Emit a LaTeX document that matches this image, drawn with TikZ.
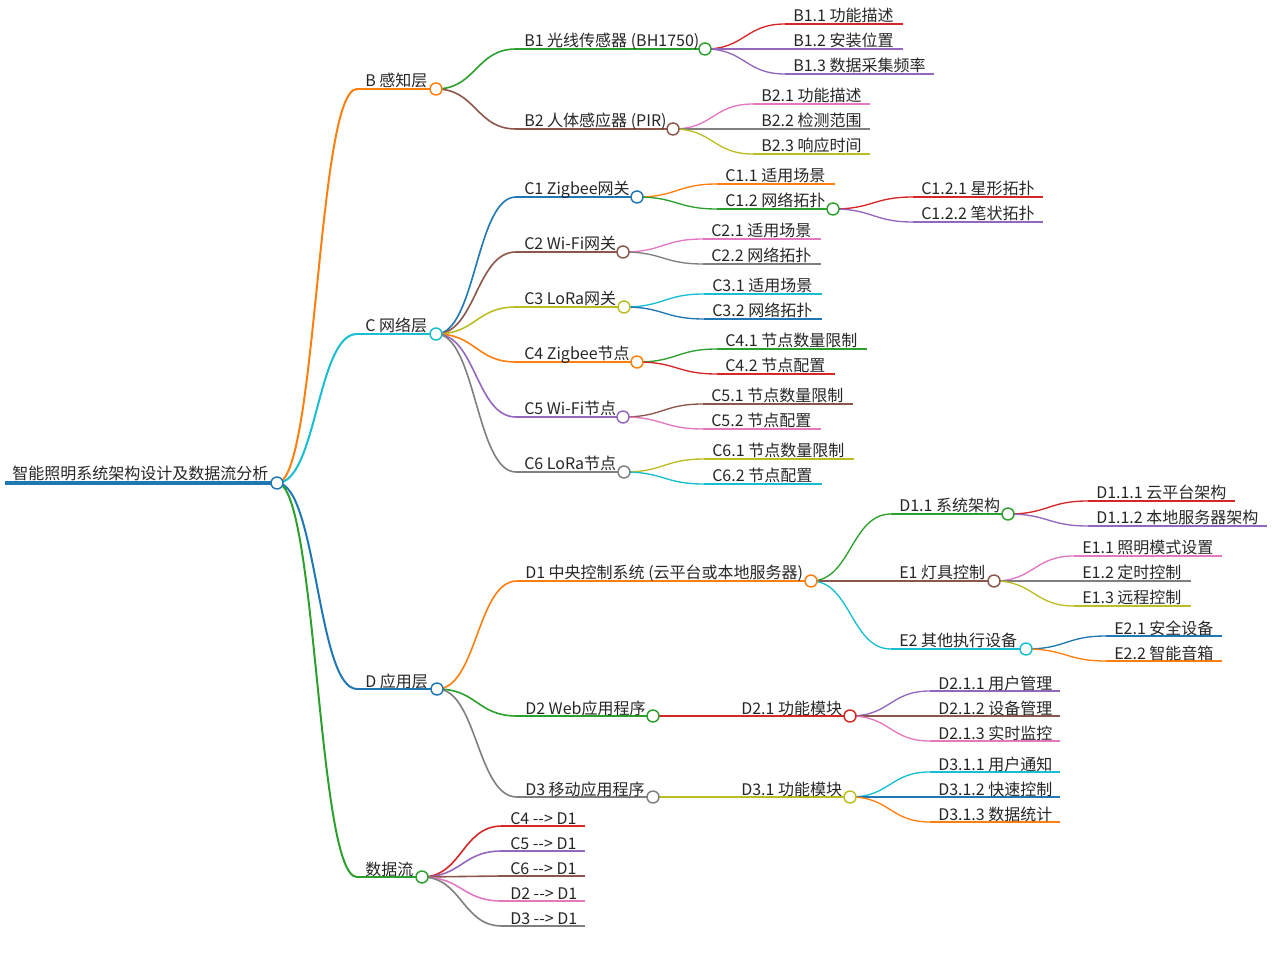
\documentclass[tikz,border=0pt]{standalone}
\usepackage{fontspec}
\setmainfont{Noto Sans CJK SC}
\usetikzlibrary{calc}

\definecolor{cblue}{HTML}{1F77B4}
\definecolor{corange}{HTML}{FF7F0E}
\definecolor{cgreen}{HTML}{2CA02C}
\definecolor{cred}{HTML}{D62728}
\definecolor{cpurple}{HTML}{9467BD}
\definecolor{cbrown}{HTML}{8C564B}
\definecolor{cpink}{HTML}{E377C2}
\definecolor{cgray}{HTML}{7F7F7F}
\definecolor{colive}{HTML}{BCBD22}
\definecolor{ccyan}{HTML}{17BECF}

\tikzset{
  lbl/.style={anchor=base west, inner sep=0pt, text=black!85, font=\fontsize{12pt}{14pt}\selectfont},
  dot/.style={circle, fill=white, line width=1.1pt, minimum size=9pt, inner sep=0pt},
  link/.style={to path={let \p1=(\tikztostart), \p2=(\tikztotarget) in
    .. controls ({(\x1+\x2)/2}, \y1) and ({(\x1+\x2)/2}, \y2) .. (\tikztotarget)}},
  w0/.style={line width=3pt},
  w1/.style={line width=1.5pt},
  w2/.style={line width=1.2pt},
  w3/.style={line width=1pt}
}

\begin{document}
\begin{tikzpicture}[x=0.75pt, y=-0.75pt]
      \useasboundingbox (0,0) rectangle (1272,955);

      \draw[w0,cblue] (5,483) coordinate (root-s) -- (277,483) coordinate (root);
      \node[lbl] (root-t) at (12,480) {智能照明系统架构设计及数据流分析};

      % layers
      \foreach \nm/\xe/\yy/\col/\txt in {b/436/89/corange/B 感知层, c/436/334/ccyan/C 网络层,
          d/437/689/cblue/D 应用层, f/422/877/cgreen/数据流} {
        \coordinate (\nm-s) at (357,\yy);
        \draw[link,w1,\col] (root) to (\nm-s);
        \draw[w1,\col] (\nm-s) -- (\xe,\yy) coordinate (\nm);
        \node[lbl] (\nm-t) at (365,\yy-2) {\txt};
      }

      % second level
      \foreach \p/\nm/\xs/\xe/\yy/\col/\txt in {
          b/b1/516/705/49/cgreen/B1 光线传感器 (BH1750),
          b/b2/516/673/129/cbrown/B2 人体感应器 (PIR),
          c/c1/516/637/197/cblue/C1 Zigbee网关,
          c/c2/516/623/252/cbrown/C2 Wi-Fi网关,
          c/c3/516/624/307/colive/C3 LoRa网关,
          c/c4/516/637/362/corange/C4 Zigbee节点,
          c/c5/516/623/417/cpurple/C5 Wi-Fi节点,
          c/c6/516/624/472/cgray/C6 LoRa节点,
          d/d1/517/811/581/corange/D1 中央控制系统 (云平台或本地服务器),
          d/d2/517/653/716/cgreen/D2 Web应用程序,
          d/d3/517/653/797/cgray/D3 移动应用程序,
          f/f1/502/585/826/cred/C4 -{}-> D1,
          f/f2/502/585/851/cpurple/C5 -{}-> D1,
          f/f3/502/585/876/cbrown/C6 -{}-> D1,
          f/f4/502/585/901/cpink/D2 -{}-> D1,
          f/f5/502/585/926/cgray/D3 -{}-> D1} {
        \coordinate (\nm-s) at (\xs,\yy);
        \draw[link,w2,\col] (\p) to (\nm-s);
        \draw[w2,\col] (\nm-s) -- (\xe,\yy) coordinate (\nm);
        \node[lbl] (\nm-t) at (\xs+8,\yy-2) {\txt};
      }

      % third level
      \foreach \p/\nm/\xs/\xe/\yy/\col/\txt in {
          b1/b11/785/903/24/cred/B1.1 功能描述,
          b1/b12/785/903/49/cpurple/B1.2 安装位置,
          b1/b13/785/934/74/cpurple/B1.3 数据采集频率,
          b2/b21/753/870/104/cpink/B2.1 功能描述,
          b2/b22/753/870/129/cgray/B2.2 检测范围,
          b2/b23/753/870/154/colive/B2.3 响应时间,
          c1/c11/717/835/184/corange/C1.1 适用场景,
          c1/c12/717/833/209/cgreen/C1.2 网络拓扑,
          c2/c21/703/821/239/cpink/C2.1 适用场景,
          c2/c22/703/821/264/cgray/C2.2 网络拓扑,
          c3/c31/704/822/294/ccyan/C3.1 适用场景,
          c3/c32/704/822/319/cblue/C3.2 网络拓扑,
          c4/c41/717/867/349/cgreen/C4.1 节点数量限制,
          c4/c42/717/835/374/cred/C4.2 节点配置,
          c5/c51/703/853/404/cbrown/C5.1 节点数量限制,
          c5/c52/703/821/429/cpink/C5.2 节点配置,
          c6/c61/704/854/459/colive/C6.1 节点数量限制,
          c6/c62/704/822/484/ccyan/C6.2 节点配置,
          d1/d11/891/1008/514/cgreen/D1.1 系统架构,
          d1/e1/891/994/581/cbrown/E1 灯具控制,
          d1/e2/891/1026/649/ccyan/E2 其他执行设备,
          d2/d21/733/850/716/cred/D2.1 功能模块,
          d3/d31/733/850/797/colive/D3.1 功能模块} {
        \coordinate (\nm-s) at (\xs,\yy);
        \draw[link,w3,\col] (\p) to (\nm-s);
        \draw[w3,\col] (\nm-s) -- (\xe,\yy) coordinate (\nm);
        \node[lbl] (\nm-t) at (\xs+8,\yy-2) {\txt};
      }

      % fourth level
      \foreach \p/\nm/\xs/\xe/\yy/\col/\txt in {
          c12/c121/913/1043/197/cred/C1.2.1 星形拓扑,
          c12/c122/913/1043/222/cpurple/C1.2.2 笔状拓扑,
          d11/d111/1088/1235/501/cred/D1.1.1 云平台架构,
          d11/d112/1088/1267/526/cpurple/D1.1.2 本地服务器架构,
          e1/e11/1074/1222/556/cpink/E1.1 照明模式设置,
          e1/e12/1074/1191/581/cgray/E1.2 定时控制,
          e1/e13/1074/1191/606/colive/E1.3 远程控制,
          e2/e21/1106/1222/636/cblue/E2.1 安全设备,
          e2/e22/1106/1222/661/corange/E2.2 智能音箱,
          d21/d211/930/1060/691/cpurple/D2.1.1 用户管理,
          d21/d212/930/1060/716/cbrown/D2.1.2 设备管理,
          d21/d213/930/1060/741/cpink/D2.1.3 实时监控,
          d31/d311/930/1060/772/ccyan/D3.1.1 用户通知,
          d31/d312/930/1060/797/cblue/D3.1.2 快速控制,
          d31/d313/930/1060/822/corange/D3.1.3 数据统计} {
        \coordinate (\nm-s) at (\xs,\yy);
        \draw[link,w3,\col] (\p) to (\nm-s);
        \draw[w3,\col] (\nm-s) -- (\xe,\yy) coordinate (\nm);
        \node[lbl] (\nm-t) at (\xs+8,\yy-2) {\txt};
      }

      % fold circles
      \foreach \nm/\col in {root/cblue, b/corange, c/ccyan, d/cblue, f/cgreen,
          b1/cgreen, b2/cbrown, c1/cblue, c12/cgreen, c2/cbrown, c3/colive,
          c4/corange, c5/cpurple, c6/cgray, d1/corange, d11/cgreen, e1/cbrown,
          e2/ccyan, d2/cgreen, d21/cred, d3/cgray, d31/colive}
        \node[dot,draw=\col] (\nm-o) at (\nm) {};
    \end{tikzpicture}
\end{document}
